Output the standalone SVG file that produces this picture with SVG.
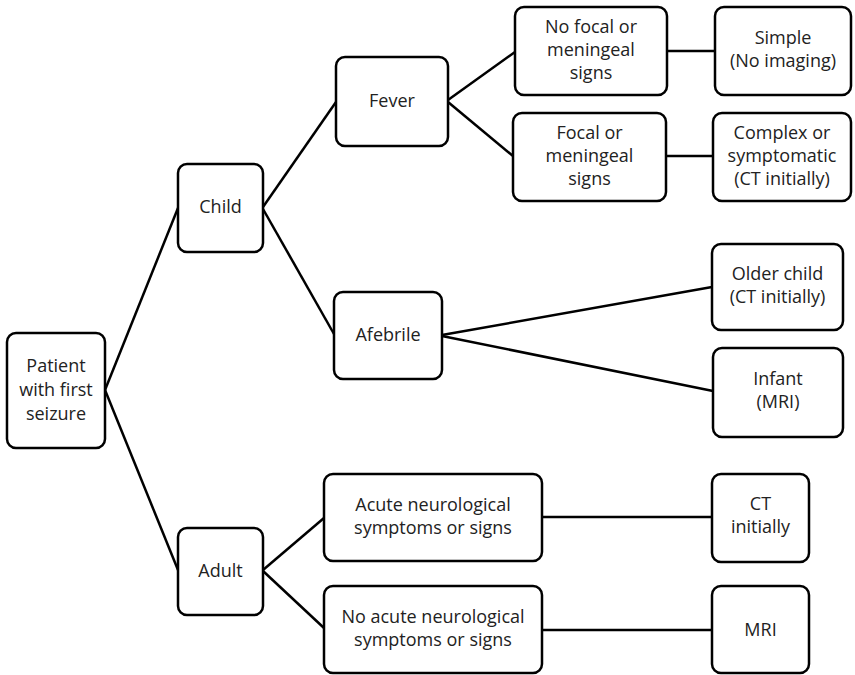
<svg xmlns="http://www.w3.org/2000/svg" width="855" height="675" viewBox="0 0 855 675">
  <style>
    .box { fill: #fff; stroke: #000; stroke-width: 2.5; }
    .lbl { font-family: "Open Sans", "Liberation Sans", sans-serif; font-size: 18px; fill: #222; text-anchor: middle; }
    .edge { stroke: #000; stroke-width: 2.5; fill: none; }
  </style>
  <rect width="855" height="675" fill="#fff"/>

  <g id="connectors">
    <line class="edge" x1="105" y1="390" x2="178" y2="208"/>
    <line class="edge" x1="105" y1="390" x2="178" y2="570"/>
    <line class="edge" x1="263" y1="207" x2="336" y2="102"/>
    <line class="edge" x1="263" y1="209" x2="334" y2="334"/>
    <line class="edge" x1="448" y1="100" x2="515" y2="52"/>
    <line class="edge" x1="448" y1="102" x2="513" y2="156"/>
    <line class="edge" x1="667" y1="51" x2="715" y2="51"/>
    <line class="edge" x1="666" y1="156" x2="713" y2="156"/>
    <line class="edge" x1="442" y1="335" x2="712" y2="287"/>
    <line class="edge" x1="442" y1="336" x2="713" y2="391"/>
    <line class="edge" x1="263" y1="570" x2="324" y2="518"/>
    <line class="edge" x1="263" y1="571" x2="324" y2="628"/>
    <line class="edge" x1="542" y1="517" x2="712" y2="517"/>
    <line class="edge" x1="542" y1="630" x2="712" y2="630"/>
  </g>

  <g id="patient">
    <rect class="box" x="7" y="333" width="98" height="115" rx="9"/>
    <text class="lbl"><tspan x="56" y="372">Patient</tspan><tspan x="56" y="396">with first</tspan><tspan x="56" y="420">seizure</tspan></text>
  </g>
  <g id="child">
    <rect class="box" x="178" y="164" width="85" height="88" rx="9"/>
    <text class="lbl" x="220.5" y="213">Child</text>
  </g>
  <g id="adult">
    <rect class="box" x="178" y="528" width="85" height="87" rx="9"/>
    <text class="lbl" x="220.5" y="577">Adult</text>
  </g>
  <g id="fever">
    <rect class="box" x="336" y="57" width="112" height="89" rx="9"/>
    <text class="lbl" x="392" y="107">Fever</text>
  </g>
  <g id="afebrile">
    <rect class="box" x="334" y="292" width="108" height="87" rx="9"/>
    <text class="lbl" x="388" y="341">Afebrile</text>
  </g>
  <g id="no-focal">
    <rect class="box" x="515" y="7" width="152" height="88" rx="9"/>
    <text class="lbl"><tspan x="591" y="33">No focal or</tspan><tspan x="591" y="56">meningeal</tspan><tspan x="591" y="79">signs</tspan></text>
  </g>
  <g id="focal">
    <rect class="box" x="513" y="113" width="153" height="88" rx="9"/>
    <text class="lbl"><tspan x="589.5" y="139">Focal or</tspan><tspan x="589.5" y="162">meningeal</tspan><tspan x="589.5" y="185">signs</tspan></text>
  </g>
  <g id="simple">
    <rect class="box" x="715" y="7" width="136" height="88" rx="9"/>
    <text class="lbl"><tspan x="783" y="44">Simple</tspan><tspan x="783" y="67">(No imaging)</tspan></text>
  </g>
  <g id="complex">
    <rect class="box" x="713" y="113" width="138" height="88" rx="9"/>
    <text class="lbl"><tspan x="782" y="139">Complex or</tspan><tspan x="782" y="162">symptomatic</tspan><tspan x="782" y="185">(CT initially)</tspan></text>
  </g>
  <g id="older-child">
    <rect class="box" x="712" y="244" width="131" height="86" rx="9"/>
    <text class="lbl"><tspan x="777.5" y="280">Older child</tspan><tspan x="777.5" y="303">(CT initially)</tspan></text>
  </g>
  <g id="infant">
    <rect class="box" x="713" y="348" width="130" height="89" rx="9"/>
    <text class="lbl"><tspan x="778" y="385">Infant</tspan><tspan x="778" y="408">(MRI)</tspan></text>
  </g>
  <g id="acute">
    <rect class="box" x="324" y="474" width="218" height="87" rx="9"/>
    <text class="lbl"><tspan x="433" y="511">Acute neurological</tspan><tspan x="433" y="534">symptoms or signs</tspan></text>
  </g>
  <g id="no-acute">
    <rect class="box" x="324" y="586" width="218" height="87" rx="9"/>
    <text class="lbl"><tspan x="433" y="623">No acute neurological</tspan><tspan x="433" y="646">symptoms or signs</tspan></text>
  </g>
  <g id="ct">
    <rect class="box" x="712" y="474" width="97" height="88" rx="9"/>
    <text class="lbl"><tspan x="760.5" y="510">CT</tspan><tspan x="760.5" y="533">initially</tspan></text>
  </g>
  <g id="mri">
    <rect class="box" x="712" y="586" width="97" height="87" rx="9"/>
    <text class="lbl" x="760.5" y="636">MRI</text>
  </g>
</svg>
